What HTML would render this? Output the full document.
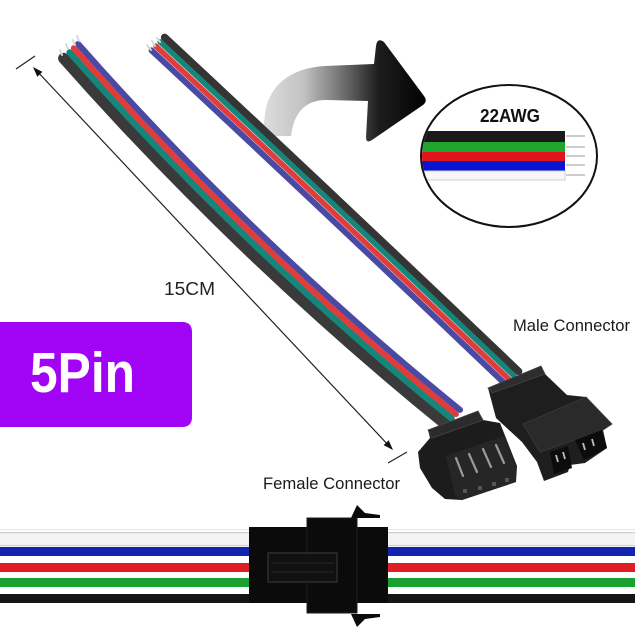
<!DOCTYPE html>
<html>
<head>
<meta charset="utf-8">
<style>
html,body{margin:0;padding:0;background:#fff;}
body{width:635px;height:632px;overflow:hidden;}
svg{display:block;}
</style>
</head>
<body>
<svg width="635" height="632" viewBox="0 0 635 632" xmlns="http://www.w3.org/2000/svg">
<defs>
<linearGradient id="ag" x1="262" y1="0" x2="428" y2="0" gradientUnits="userSpaceOnUse">
<stop offset="0" stop-color="#dedede"/>
<stop offset="0.25" stop-color="#c2c2c2"/>
<stop offset="0.5" stop-color="#6a6a6a"/>
<stop offset="0.7" stop-color="#1e1e1e"/>
<stop offset="1" stop-color="#000"/>
</linearGradient>
<clipPath id="ec"><ellipse cx="509" cy="156" rx="87" ry="70"/></clipPath>
</defs>

<rect width="635" height="632" fill="#fff"/>

<!-- big curved arrow -->
<path d="M262,136 L265,115 C268,86 290,68 325,66 L374,64 L376,46 Q377,37 384,42 L424,96 Q428,101 423,105 L372,140 Q366,144 366,137 L368,101 L326,100 C306,100 294,112 291,136 Z" fill="url(#ag)"/>

<!-- ellipse detail -->
<ellipse cx="509" cy="156" rx="88" ry="71" fill="#fff" stroke="#111" stroke-width="2"/>
<g clip-path="url(#ec)">
<rect x="420" y="131" width="145" height="11" fill="#1a1a1a"/>
<rect x="420" y="142" width="145" height="10" fill="#1fa52e"/>
<rect x="420" y="152" width="145" height="9" fill="#e0141c"/>
<rect x="420" y="161" width="145" height="10" fill="#0a14d0"/>
<rect x="420" y="171" width="145" height="9" fill="#f7f7f7" stroke="#cfcfcf" stroke-width="1"/>
</g>
<g stroke="#bbb" stroke-width="1.5">
<line x1="566" y1="136" x2="585" y2="136"/>
<line x1="566" y1="147" x2="585" y2="147"/>
<line x1="566" y1="156" x2="585" y2="156"/>
<line x1="566" y1="165" x2="585" y2="165"/>
<line x1="566" y1="175" x2="585" y2="175"/>
</g>
<text x="510" y="122" font-family="Liberation Sans, sans-serif" font-size="18" font-weight="bold" fill="#111" text-anchor="middle" textLength="60" lengthAdjust="spacingAndGlyphs">22AWG</text>

<!-- left (female) cable -->
<g fill="none" stroke-linecap="round">
<path d="M70,52 Q245,250 452,418" transform="translate(-6.4,6.4)" stroke="#3a3a3a" stroke-width="11"/>
<path d="M70,52 Q245,250 452,418" transform="translate(-0.4,0.4)" stroke="#14877a" stroke-width="6.5"/>
<path d="M70,52 Q245,250 452,418" transform="translate(3.9,-3.9)" stroke="#e03c3c" stroke-width="6"/>
<path d="M70,52 Q245,250 452,418" transform="translate(8.1,-8.1)" stroke="#4a4aa2" stroke-width="6"/>
</g>
<g stroke="#d8d8d8" stroke-width="2" stroke-linecap="round">
<line x1="62" y1="55" x2="60" y2="50"/>
<line x1="68" y1="49" x2="66" y2="44"/>
<line x1="75" y1="45" x2="73" y2="40"/>
<line x1="79" y1="41" x2="77" y2="36"/>
</g>

<!-- right (male) cable -->
<g fill="none" stroke-linecap="round">
<path d="M158,44 Q332,206 512,378" transform="translate(-6.4,6.4)" stroke="#4a4aa2" stroke-width="6"/>
<path d="M158,44 Q332,206 512,378" transform="translate(-2.1,2.1)" stroke="#e03c3c" stroke-width="5.5"/>
<path d="M158,44 Q332,206 512,378" transform="translate(2.1,-2.1)" stroke="#14877a" stroke-width="5.5"/>
<path d="M158,44 Q332,206 512,378" transform="translate(6.6,-6.6)" stroke="#353535" stroke-width="7.5"/>
</g>
<g stroke="#d8d8d8" stroke-width="2" stroke-linecap="round">
<line x1="151" y1="50" x2="147" y2="45"/>
<line x1="155" y1="46" x2="152" y2="41"/>
<line x1="160" y1="42" x2="157" y2="38"/>
</g>

<!-- female connector -->
<polygon points="428,430 478,411 483,420 500,423 517,466 516,482 462,500 445,499 432,488 420,468 418,452 430,438" fill="#1c1c1c"/>
<polygon points="428,430 478,411 483,420 432,438" fill="#2b2b2b" stroke="#444" stroke-width="0.8"/>
<polygon points="446,456 504,436 516,466 516,482 462,500 455,496" fill="#262626"/>
<g stroke="#9a9a9a" stroke-width="2.2" stroke-linecap="round">
<line x1="456" y1="458" x2="463" y2="476"/>
<line x1="469" y1="454" x2="477" y2="472"/>
<line x1="483" y1="449" x2="491" y2="467"/>
<line x1="496" y1="445" x2="504" y2="463"/>
</g>
<g fill="#555">
<rect x="463" y="489" width="4" height="4"/>
<rect x="478" y="486" width="4" height="4"/>
<rect x="492" y="482" width="4" height="4"/>
<rect x="505" y="478" width="4" height="4"/>
</g>

<!-- male connector -->
<polygon points="488,388 541,366 545,374 567,395 586,397 612,424 603,430 607,448 585,463 570,465 568,472 544,481 537,462 522,442 496,418" fill="#1e1e1e"/>
<polygon points="488,388 541,366 545,374 492,393" fill="#2e2e2e" stroke="#444" stroke-width="0.8"/>
<polygon points="523,424 586,397 612,424 603,430 540,452" fill="#2a2a2a" stroke="#3a3a3a" stroke-width="0.8"/>
<polygon points="550,452 568,446 572,468 554,474" fill="#0c0c0c"/>
<polygon points="575,440 602,430 607,448 584,460" fill="#0c0c0c"/>
<g stroke="#bdbdbd" stroke-width="1.8">
<line x1="556" y1="455" x2="558" y2="462"/>
<line x1="563" y1="452" x2="565" y2="459"/>
<line x1="583" y1="443" x2="585" y2="450"/>
<line x1="592" y1="439" x2="594" y2="446"/>
</g>

<!-- dimension line -->
<line x1="35" y1="69" x2="391" y2="448" stroke="#222" stroke-width="1.2"/>
<polygon points="33,67 42.4,71.9 37.3,76.7" fill="#111"/>
<polygon points="393,450 388.7,440.3 383.6,445.1" fill="#111"/>
<line x1="16" y1="69" x2="35" y2="56" stroke="#222" stroke-width="1.2"/>
<line x1="388" y1="463" x2="407" y2="452" stroke="#222" stroke-width="1.2"/>

<!-- labels -->
<text x="164" y="295" font-family="Liberation Sans, sans-serif" font-size="18" fill="#222" textLength="51" lengthAdjust="spacingAndGlyphs">15CM</text>
<text x="513" y="331" font-family="Liberation Sans, sans-serif" font-size="16.5" fill="#1a1a1a" textLength="117" lengthAdjust="spacingAndGlyphs">Male Connector</text>
<text x="263" y="489" font-family="Liberation Sans, sans-serif" font-size="16.5" fill="#1a1a1a" textLength="137" lengthAdjust="spacingAndGlyphs">Female Connector</text>

<!-- 5Pin box -->
<path d="M0,322 L182,322 Q192,322 192,332 L192,417 Q192,427 182,427 L0,427 Z" fill="#a104f4"/>
<text x="30" y="392" font-family="Liberation Sans, sans-serif" font-size="57" font-weight="bold" fill="#fff" textLength="105" lengthAdjust="spacingAndGlyphs">5Pin</text>

<!-- bottom wire strip -->
<rect x="0" y="529" width="635" height="1" fill="#e4e4e4"/>
<rect x="0" y="532" width="635" height="14" fill="#f3f3f3"/>
<rect x="0" y="532" width="635" height="1.2" fill="#cfcfcf"/>
<rect x="0" y="545" width="635" height="1.2" fill="#cfcfcf"/>
<rect x="0" y="547" width="635" height="9" fill="#1325b0"/>
<rect x="0" y="563" width="635" height="9" fill="#e01e26"/>
<rect x="0" y="578" width="635" height="9" fill="#18a030"/>
<rect x="0" y="594" width="635" height="9" fill="#151515"/>

<!-- bottom connector -->
<rect x="249" y="527" width="139" height="76" fill="#0b0b0b"/>
<rect x="307" y="518" width="50" height="95" fill="#0b0b0b" stroke="#1c1c1c" stroke-width="1"/>
<rect x="268" y="553" width="69" height="29" fill="#111" stroke="#2e2e2e" stroke-width="1.5"/>
<line x1="272" y1="563" x2="334" y2="563" stroke="#262626" stroke-width="1"/>
<line x1="272" y1="572" x2="334" y2="572" stroke="#262626" stroke-width="1"/>
<line x1="357" y1="527" x2="357" y2="603" stroke="#222" stroke-width="1"/>
<polygon points="351,518 357,505 365,513 380,515 380,518" fill="#0b0b0b"/>
<polygon points="351,614 357,627 365,619 380,617 380,614" fill="#0b0b0b"/>
</svg>
</body>
</html>
